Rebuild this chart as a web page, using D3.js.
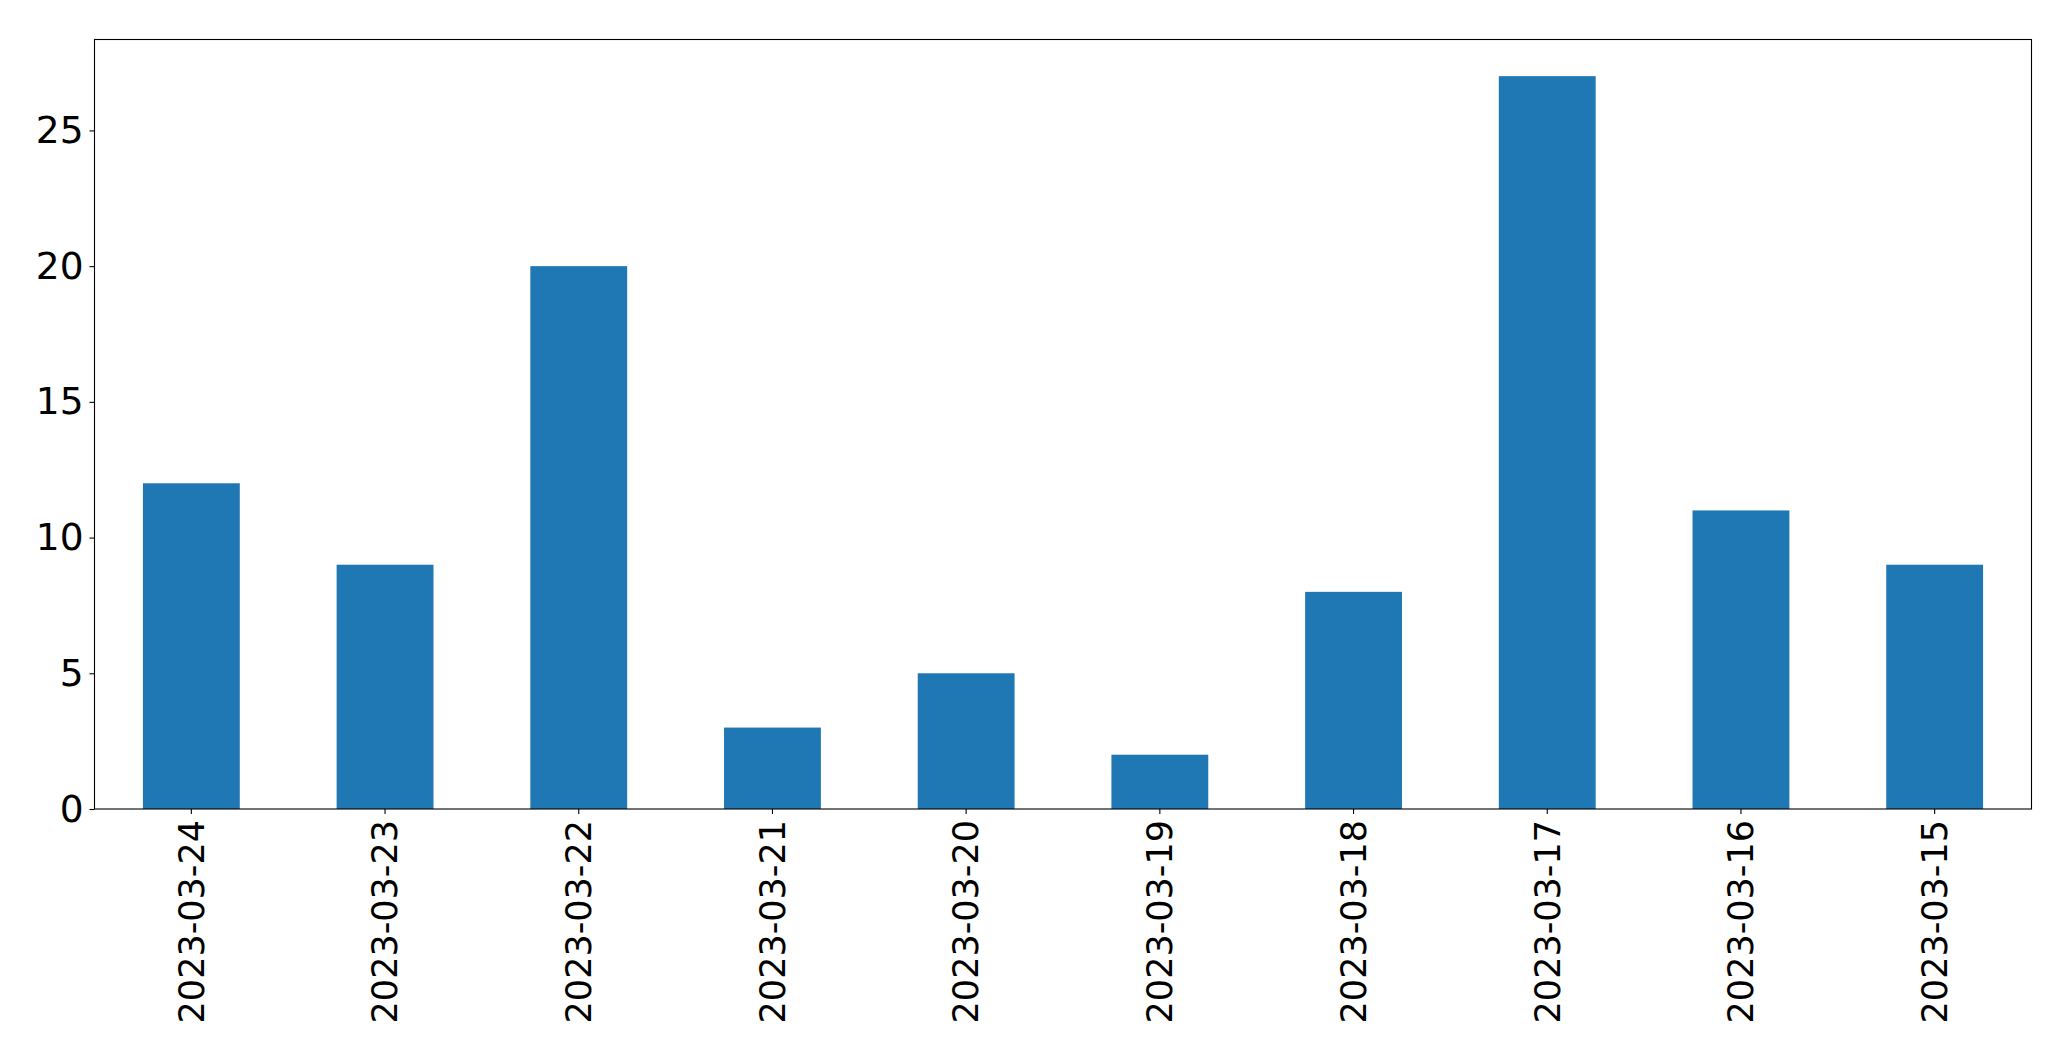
<!DOCTYPE html>
<html>
<head>
<meta charset="utf-8">
<script src="https://cdn.jsdelivr.net/npm/d3@7"></script>
<style>
  html, body { margin: 0; padding: 0; background: #fff; }
  svg { display: block; }
  text { font-family: "DejaVu Sans", sans-serif; fill: #000; }
</style>
</head>
<body>
<script>
const categories = ["2023-03-24","2023-03-23","2023-03-22","2023-03-21","2023-03-20","2023-03-19","2023-03-18","2023-03-17","2023-03-16","2023-03-15"];
const values = [12, 9, 20, 3, 5, 2, 8, 27, 11, 9];
const yTicks = [0, 5, 10, 15, 20, 25];

const W = 2071, H = 1061;
const margin = {left: 94.5, right: W - 2031.5, top: 39.5, bottom: H - 809};

const svg = d3.select("body").append("svg").attr("width", W).attr("height", H);

const x = d3.scaleBand().domain(categories).range([margin.left, W - margin.right]).paddingInner(0.5).paddingOuter(0.25);
const y = d3.scaleLinear().domain([0, d3.max(values) * 1.05]).range([H - margin.bottom, margin.top]);

svg.append("g").selectAll("rect").data(values).join("rect")
  .attr("x", (d, i) => x(categories[i]))
  .attr("width", x.bandwidth())
  .attr("y", d => y(d))
  .attr("height", d => y(0) - y(d))
  .attr("fill", "#1f77b4");

const yAxis = svg.append("g").attr("transform", `translate(${margin.left},0)`)
  .call(d3.axisLeft(y).tickValues(yTicks).tickSize(5).tickPadding(6).tickFormat(d3.format("d")));
yAxis.select(".domain").remove();
yAxis.selectAll("text").attr("font-size", 37.5).attr("font-family", "DejaVu Sans");
yAxis.selectAll("line").attr("stroke", "#000").attr("stroke-width", 1.1);

const xAxis = svg.append("g").attr("transform", `translate(0,${H - margin.bottom})`)
  .call(d3.axisBottom(x).tickSize(5).tickPadding(6));
xAxis.select(".domain").remove();
xAxis.selectAll("line").attr("stroke", "#000").attr("stroke-width", 1.1);
xAxis.selectAll("text")
  .attr("font-size", 35).attr("font-family", "DejaVu Sans")
  .attr("transform", "rotate(-90)")
  .attr("text-anchor", "end")
  .attr("dy", "0.35em")
  .attr("x", -11)
  .attr("y", 0);

svg.append("rect")
  .attr("x", margin.left).attr("y", margin.top)
  .attr("width", W - margin.left - margin.right)
  .attr("height", H - margin.top - margin.bottom)
  .attr("fill", "none").attr("stroke", "#000").attr("stroke-width", 1.1);
</script>
</body>
</html>
